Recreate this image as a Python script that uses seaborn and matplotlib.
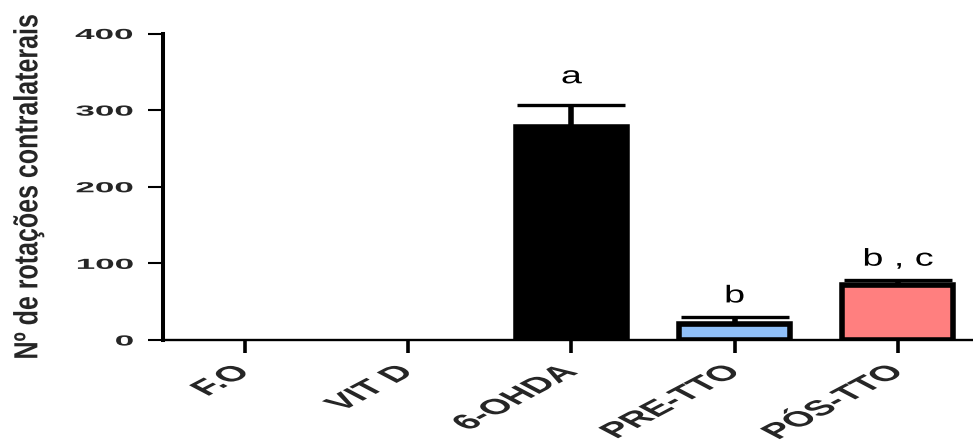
import numpy as np
import pandas as pd
import matplotlib
matplotlib.use("Agg")
import matplotlib.pyplot as plt
import seaborn as sns
from matplotlib.patheffects import AbstractPathEffect
from matplotlib.transforms import Affine2D, ScaledTranslation

# ---- data -------------------------------------------------------------
groups = ["F.O", "VIT D", "6-OHDA", "PRE-TTO", "PÓS-TTO"]
means = [0, 0, 278, 21, 72]
sem = [0, 0, 29, 9, 6]
letters = ["", "", "a", "b", "b , c"]
bar_colors = ["#000000", "#000000", "#000000", "#8FBFF8", "#FF7F7F"]
y_ticks = [0, 100, 200, 300, 400]
y_label = "Nº de rotações contralaterais"


class WideText(AbstractPathEffect):
    """Draw a text's glyphs widened horizontally around its anchor point."""

    def __init__(self, text, factor):
        super().__init__()
        self._text = text
        self._factor = factor

    def draw_path(self, renderer, gc, tpath, affine, rgbFace=None):
        x0, _ = self._text.get_transform().transform(
            self._text.get_unitless_position())
        widen = Affine2D().translate(-x0, 0).scale(self._factor, 1).translate(x0, 0)
        renderer.draw_path(gc, tpath, affine + widen, rgbFace)


def widen(text, factor):
    text.set_path_effects([WideText(text, factor)])


sns.set_theme(style="ticks")
plt.rcParams["font.family"] = ["Liberation Sans", "DejaVu Sans"]

fig = plt.figure(figsize=(9.73, 4.41), dpi=100)
ax = fig.add_axes([163 / 973, 101 / 441, 810 / 973, 306.5 / 441])

df = pd.DataFrame({"grupo": groups, "media": means})
sns.barplot(data=df, x="grupo", y="media", hue="grupo", order=groups,
            hue_order=groups, palette=dict(zip(groups, bar_colors)),
            saturation=1, width=0.68, edgecolor="black", linewidth=4,
            errorbar=None, legend=False, ax=ax, zorder=2)

# empty groups: no bar outline on the baseline
for p in ax.patches:
    if p.get_height() == 0:
        p.set_visible(False)

# upper-only error bars
xpos = np.arange(len(groups))
m = np.array(means, dtype=float)
e = np.array(sem, dtype=float)
has_err = e > 0
ax.errorbar(xpos[has_err], m[has_err],
            yerr=[np.zeros(has_err.sum()), e[has_err]],
            fmt="none", ecolor="black", elinewidth=4, capsize=39,
            capthick=2.4, zorder=3)

# significance letters above the error bars
letter_offsets = [0, 0, 15.5, 10.5, 10.5]
for i, (lab, off) in enumerate(zip(letters, letter_offsets)):
    if not lab:
        continue
    tr = ax.transData + ScaledTranslation(0, off / 72, fig.dpi_scale_trans)
    t = ax.text(i, means[i] + sem[i], lab, transform=tr, ha="center",
                va="baseline", fontsize=17.5, color="black")
    widen(t, 1.55)

# axes styling
ax.set_xlim(-0.5, 4.46)
ax.set_ylim(0, 400)
ax.set_yticks(y_ticks)
ax.set_yticklabels([str(v) for v in y_ticks])
ax.set_xlabel("")
ax.set_ylabel(y_label, fontsize=18, fontweight="bold", va="center",
              ha="center", rotation_mode="anchor")
ax.yaxis.set_label_coords(-0.1667, 0.5)
widen(ax.yaxis.label, 1.34)

sns.despine(ax=ax)
ax.spines["left"].set_linewidth(2.9)
ax.spines["bottom"].set_linewidth(1.7)
ax.spines["left"].set_color("black")
ax.spines["bottom"].set_color("black")
ax.tick_params(axis="y", length=11, width=1.5, pad=9.5, labelsize=10.5,
               color="black", direction="out")
ax.tick_params(axis="x", length=9, width=2.6, pad=12, labelsize=15.5,
               color="black", direction="out")

for t in ax.get_yticklabels():
    t.set_fontweight("bold")
    widen(t, 2.4)
for t in ax.get_xticklabels():
    t.set_fontweight("bold")
    t.set_rotation(45)
    t.set_ha("right")
    t.set_va("center")
    t.set_rotation_mode("anchor")
    widen(t, 1.9)

ax.set_facecolor("white")
fig.patch.set_facecolor("white")
fig.savefig("out.png", dpi=100)
